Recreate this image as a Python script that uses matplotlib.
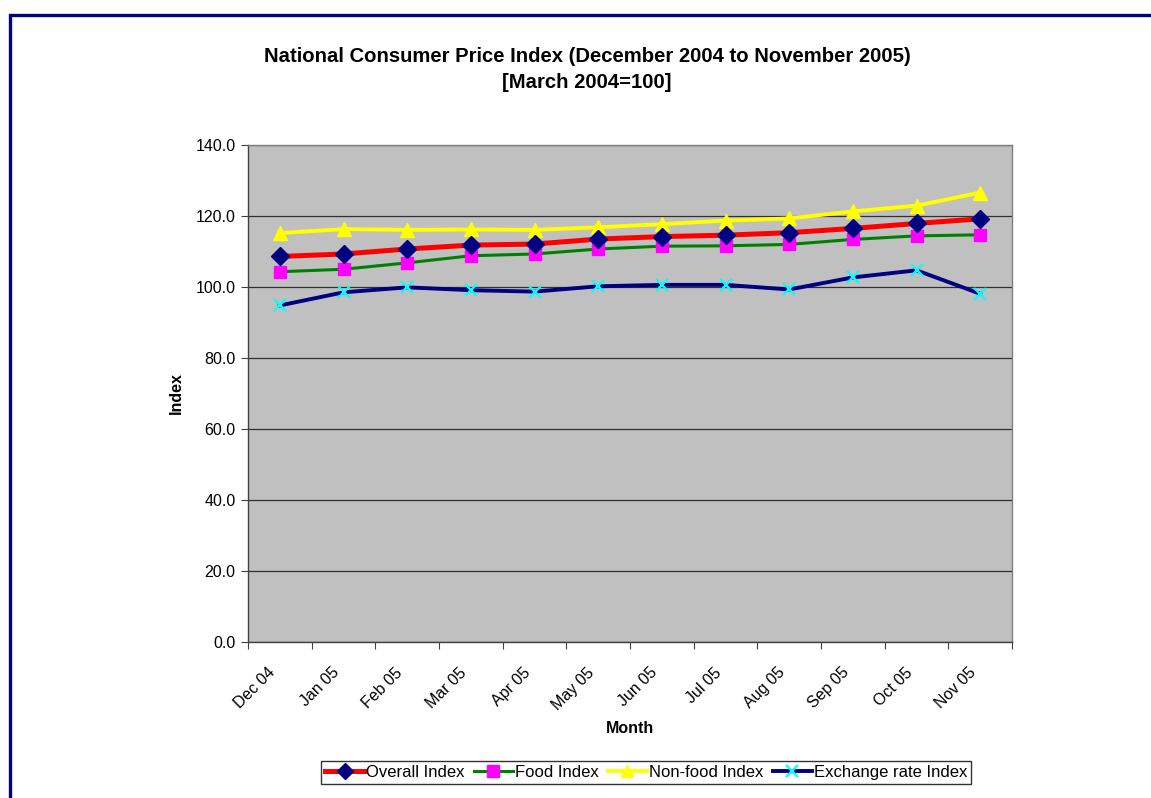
import matplotlib
matplotlib.use("Agg")
import matplotlib.pyplot as plt
from matplotlib.patches import Rectangle
from matplotlib.transforms import ScaledTranslation

months = ["Dec 04", "Jan 05", "Feb 05", "Mar 05", "Apr 05", "May 05",
          "Jun 05", "Jul 05", "Aug 05", "Sep 05", "Oct 05", "Nov 05"]
overall = [108.6, 109.3, 110.7, 111.8, 112.1, 113.5, 114.2, 114.6, 115.3, 116.5, 117.9, 119.2]
food = [104.3, 105.0, 106.8, 108.8, 109.3, 110.7, 111.5, 111.6, 112.0, 113.4, 114.4, 114.7]
nonfood = [115.2, 116.3, 116.1, 116.2, 116.1, 116.8, 117.7, 118.7, 119.3, 121.3, 122.9, 126.6]
exchange = [94.8, 98.5, 99.9, 99.1, 98.7, 100.2, 100.6, 100.6, 99.3, 102.7, 104.7, 98.1]
yticks = [0, 20, 40, 60, 80, 100, 120, 140]

plt.rcParams['font.family'] = ['Liberation Sans', 'DejaVu Sans']

W, H = 1151, 798
fig = plt.figure(figsize=(W / 100, H / 100), dpi=100)

# outer dark-blue frame
fig.patches.append(Rectangle((9.5 / W, -0.1), 1.2, 1 - 15.5 / H + 0.1,
                             transform=fig.transFigure, fill=False,
                             edgecolor='#000080', linewidth=2.4, zorder=0))

ax = fig.add_axes([248 / W, 1 - 642 / H, (1012 - 248) / W, (642 - 145) / H])
ax.set_facecolor('#C0C0C0')

x = list(range(len(months)))
ax.plot(x, overall, color='#FF0000', lw=3.6, marker='D', ms=9.5,
        mfc='#000080', mec='#000080', label='Overall Index', zorder=5)
ax.plot(x, food, color='#008000', lw=2.2, marker='s', ms=9,
        mfc='#FF00FF', mec='#FF00FF', label='Food Index', zorder=4)
ax.plot(x, nonfood, color='#FFFF00', lw=2.8, marker='^', ms=10,
        mfc='#FFFF00', mec='#FFFF00', label='Non-food Index', zorder=3)
ax.plot(x, exchange, color='#000080', lw=2.8, marker='x', ms=9, mew=1.6,
        mfc='#00FFFF', mec='#00FFFF', label='Exchange rate Index', zorder=6)

ax.set_xlim(-0.5, len(months) - 0.5)
ax.set_ylim(0, 140)
ax.set_yticks(yticks)
ax.set_yticklabels([f"{v:.1f}" for v in yticks], fontsize=11.5)
ax.yaxis.grid(True, color='#303030', lw=0.9)
ax.set_axisbelow(True)

ax.set_xticks([i - 0.5 for i in range(len(months) + 1)])
ax.set_xticklabels([])
ax.set_xticks(x, minor=True)
ax.set_xticklabels(months, minor=True, rotation=45, ha='right', va='top',
                   rotation_mode='anchor', fontsize=11.5)
ax.tick_params(axis='x', which='minor', length=0, pad=16.5)
ax.tick_params(axis='x', which='major', length=5, direction='out', color='#404040')
ax.tick_params(axis='y', length=5, direction='out', color='#404040', pad=4)
shift = ScaledTranslation(-12 / 100, 0, fig.dpi_scale_trans)
for lbl in ax.get_xticklabels(minor=True):
    lbl.set_transform(lbl.get_transform() + shift)

for s in ['top', 'right']:
    ax.spines[s].set_color('#808080')
    ax.spines[s].set_linewidth(1.0)
for s in ['left', 'bottom']:
    ax.spines[s].set_color('#404040')
    ax.spines[s].set_linewidth(1.0)

ax.set_ylabel('Index', fontsize=11.5, fontweight='bold', labelpad=8)
ax.set_xlabel('Month', fontsize=11.5, fontweight='bold', labelpad=6)

fig.text(587 / W, 1 - 56 / H, 'National Consumer Price Index (December 2004 to November 2005)',
         ha='center', va='center', fontsize=14.6, fontweight='bold')
fig.text(587 / W, 1 - 82 / H, '[March 2004=100]',
         ha='center', va='center', fontsize=14.6, fontweight='bold')

leg = fig.legend(loc='center', bbox_to_anchor=(646 / W, 1 - 772.5 / H), ncol=4,
                 fontsize=12, frameon=True, fancybox=False, edgecolor='#000000',
                 handlelength=2.35, handletextpad=0.12, columnspacing=0.55,
                 borderpad=0.25, borderaxespad=0)
leg.get_frame().set_linewidth(1.0)
for h in leg.legend_handles:
    h.set_markersize(8)

fig.savefig('out.png', dpi=100)
